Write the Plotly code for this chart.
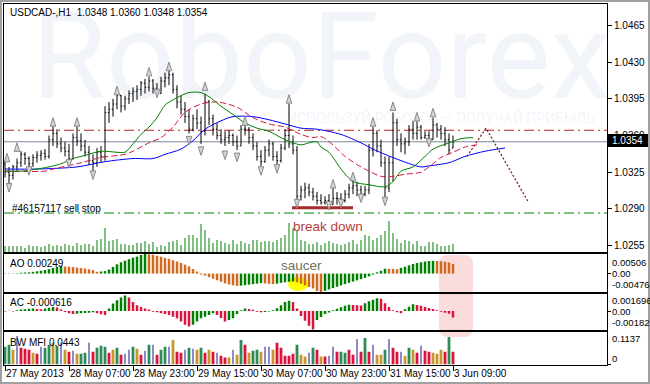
import plotly.graph_objects as go

W, H = 650, 384
FONT = "Liberation Sans, Arial, sans-serif"

# ---------------- data (prices in units of 1e-4) ----------------
bar_idx = list(range(113))
open_p = [10333,10325,10322,10330,10334,10342,10338,10333,10339,10341,
          10343,10340,10356,10362,10352,10348,10345,10338,10358,10355,
          10350,10344,10336,10334,10344,10340,10382,10385,10390,10398,
          10388,10395,10400,10402,10404,10410,10406,10412,10405,10400,
          10412,10415,10418,10404,10392,10385,10378,10366,10376,10372,
          10364,10392,10376,10366,10360,10356,10358,10360,10354,10350,
          10366,10366,10358,10350,10340,10335,10346,10352,10340,10336,
          10348,10360,10352,10346,10302,10308,10310,10306,10302,10298,
          10296,10298,10294,10300,10300,10298,10304,10310,10312,10308,
          10304,10308,10346,10362,10350,10334,10310,10334,10372,10356,
          10352,10354,10366,10362,10368,10358,10360,10356,10370,10366,
          10362,10356,10348]
high_p = [10336,10330,10332,10338,10345,10344,10340,10342,10345,10346,
          10347,10360,10369,10366,10358,10354,10352,10362,10369,10362,
          10356,10350,10342,10348,10350,10388,10392,10395,10400,10399,
          10398,10403,10406,10408,10412,10414,10416,10414,10410,10416,
          10420,10423,10420,10408,10398,10392,10385,10380,10385,10378,
          10400,10394,10380,10372,10366,10364,10365,10362,10360,10370,
          10372,10368,10362,10354,10346,10350,10356,10354,10345,10352,
          10366,10390,10360,10350,10312,10315,10314,10310,10306,10304,
          10302,10304,10310,10306,10305,10308,10314,10318,10316,10312,
          10312,10352,10368,10365,10356,10340,10340,10382,10376,10362,
          10358,10370,10374,10375,10370,10364,10364,10377,10372,10370,
          10368,10362,10360]
low_p = [10320,10312,10318,10326,10330,10332,10328,10330,10334,10336,
         10337,10338,10350,10348,10344,10340,10336,10337,10350,10345,
         10340,10332,10326,10330,10334,10336,10372,10378,10385,10382,
         10384,10390,10392,10394,10398,10400,10402,10400,10399,10400,
         10406,10408,10400,10386,10380,10372,10362,10364,10366,10352,
         10360,10370,10360,10356,10352,10350,10352,10350,10346,10350,
         10360,10352,10346,10336,10331,10334,10340,10336,10330,10334,
         10346,10348,10342,10296,10298,10300,10302,10298,10294,10294,
         10294,10292,10294,10294,10293,10296,10300,10304,10302,10298,
         10302,10304,10340,10344,10330,10301,10306,10316,10350,10344,
         10342,10350,10356,10356,10356,10357,10354,10356,10358,10356,
         10350,10342,10348]
close_p = [10325,10322,10330,10334,10342,10338,10333,10339,10341,10343,
           10340,10356,10362,10352,10348,10345,10338,10358,10355,10350,
           10344,10336,10334,10344,10340,10382,10385,10390,10398,10388,
           10395,10400,10402,10404,10410,10406,10412,10405,10400,10412,
           10415,10418,10404,10392,10385,10378,10366,10376,10372,10364,
           10392,10376,10366,10360,10356,10358,10360,10354,10350,10366,
           10366,10358,10350,10340,10335,10346,10352,10340,10336,10348,
           10360,10352,10346,10302,10308,10310,10306,10302,10298,10296,
           10298,10294,10300,10300,10298,10304,10310,10312,10308,10304,
           10308,10346,10362,10350,10334,10310,10334,10372,10356,10352,
           10354,10366,10362,10368,10358,10360,10356,10370,10366,10362,
           10356,10346,10354]
volume = [6,6,6,6,6,4,7,6,6,5,
          6,8,6,7,6,8,7,6,9,7,
          8,8,6,12,13,24,11,12,13,8,
          8,7,7,9,9,11,8,10,5,7,
          6,10,11,12,7,14,17,17,14,28,
          22,14,9,12,11,9,8,12,8,11,
          9,8,12,12,10,11,11,10,12,14,
          17,29,24,22,12,11,8,8,10,7,
          9,11,9,8,7,8,10,12,8,12,
          17,16,12,14,17,21,31,19,13,9,
          12,11,8,11,6,6,10,10,8,6,
          6,7,8]

# Alligator lines (bar index, price)
lips_x = [0,4,8,11,14,17,20,24,28,30,32,34,36,38,40,42,44,46,49,51,54,57,60,63,66,70,74,76,78,79,81,84,87,91,95,97,99,102,105,107,111,114,117]
lips_p = [1.0326,1.0326,1.0328,1.0330,1.0333,1.0338,1.0341,1.0345,1.0344,1.0344,1.0352,1.0361,1.0368,1.0377,1.0389,1.0394,1.0398,1.0401,1.0401,1.0397,1.0388,1.0380,1.0372,1.0367,1.0364,1.0356,1.0351,1.0353,1.0354,1.0349,1.0344,1.0328,1.0316,1.0313,1.0311,1.0316,1.0326,1.0330,1.0340,1.0347,1.0353,1.0357,1.0358]
teeth_x = [0,10,12,19,24,30,32,36,39,42,45,49,53,58,62,66,70,74,77,79,82,85,89,91,94,97,100,104,106,109,112,115,118]
teeth_p = [1.0326,1.0326,1.0328,1.0334,1.0339,1.0342,1.0345,1.0353,1.0358,1.0368,1.0382,1.0390,1.0392,1.0387,1.0377,1.0371,1.0368,1.0361,1.0358,1.0359,1.0351,1.0340,1.0330,1.0326,1.0321,1.0321,1.0323,1.0325,1.0330,1.0339,1.0344,1.0349,1.0351]
jaw_x = [0,8,18,25,32,37,40,44,47,50,54,57,62,66,70,74,78,84,89,92,95,99,104,106,111,115,120,125]
jaw_p = [1.0328,1.0328,1.0330,1.0335,1.0338,1.0338,1.0342,1.0347,1.0355,1.0366,1.0374,1.0378,1.0378,1.0375,1.0371,1.0367,1.0366,1.0361,1.0353,1.0347,1.0342,1.0336,1.0330,1.0331,1.0334,1.0340,1.0345,1.0348]

# Fractal marks
frac_up_x = [0.5,3,12,18,28,36,41,50,60,71,82,87,92,97,103,107]
frac_up_p = [1.0343,1.0353,1.0377,1.0377,1.0407,1.0425,1.0430,1.0411,1.0378,1.0399,1.0318,1.0325,1.0377,1.0392,1.0382,1.0386]
frac_dn_x = [1,6,16,22,38,46,49,55,58,64,68,73,81,84,89,95,106]
frac_dn_p = [1.0306,1.0322,1.0329,1.0318,1.0396,1.0351,1.0341,1.0337,1.0335,1.0322,1.0324,1.0291,1.0289,1.0291,1.0296,1.0293,1.0349]

# Drawn analysis objects
proj_x = [115.5, 120.25, 130.75]
proj_p = [1.0340, 1.0367, 1.0297]
break_x = [71.75, 87]
break_p = [1.0291, 1.0291]
level_resist = 1.0365
level_bid = 1.0354
level_sellstop = 1.0286

# Indicators
ao_e5 = [-10,-8,5,10,21,27,32,45,58,74,
         93,114,146,170,191,183,178,167,154,141,
         130,111,90,48,53,64,106,173,239,292,
         332,372,411,438,480,506,495,485,460,435,
         406,380,345,311,273,231,186,119,53,-27,
         -53,-93,-133,-173,-212,-252,-279,-305,-318,-313,
         -300,-287,-273,-260,-247,-255,-265,-273,-260,-239,
         -226,-212,-204,-226,-265,-305,-345,-385,-450,-476,
         -445,-410,-375,-340,-305,-272,-240,-208,-176,-145,
         -110,-72,-27,32,72,125,122,119,114,146,
         178,212,247,273,292,311,326,329,324,318,
         305,287,249]
ac_e6 = [-28,28,-28,94,160,188,216,254,207,188,
         254,329,404,348,160,-94,-216,-282,-244,-207,
         -188,-160,-113,-216,-301,-376,254,724,1034,1320,
         1500,1300,874,564,404,254,160,-66,-122,-216,
         -282,-376,-536,-686,-1006,-1316,-1476,-1316,-1006,-686,
         -536,-376,-216,-376,-658,-1006,-846,-686,-282,94,
         254,207,141,-66,-122,-94,-47,94,282,564,
         874,987,874,254,-470,-940,-1410,-1780,-846,-564,
         -282,-141,94,235,376,517,611,583,564,545,
         752,940,1100,1250,1194,752,404,94,-122,-216,
         188,423,658,592,517,395,301,207,94,-66,
         -160,-263,-616]
mfi_e4 = [620,689,517,1000,586,551,517,413,379,620,
          586,689,758,655,758,517,448,482,379,379,
          413,758,448,586,655,620,413,517,586,345,
          379,517,620,551,345,482,689,689,345,517,
          620,620,861,448,413,517,586,551,517,586,
          413,517,448,413,310,241,241,517,345,861,
          689,413,482,517,448,620,620,517,758,586,
          310,310,379,689,345,276,413,586,517,276,
          276,310,620,448,448,413,517,345,896,448,
          930,448,689,345,345,517,896,586,448,448,
          310,586,517,413,655,482,448,413,379,517,
          448,965,443]
mfi_kind = list("ggybrrryrb" "ggygbyrbyg" "gbrgggrygr" "bbgyrbgbrg" "gbyrrbgbyg"
                "ryrbrrybyg" "ryggybbyrr" "rrrgyybgry" "rbbrggrrbr" "grbyygbrrb"
                "ygyrbrryyy" "rgr")

price_ticks = [1.0255, 1.0290, 1.0325, 1.0360, 1.0395, 1.0430, 1.0465]
time_tick_idx = [0, 16, 32, 48, 64, 80, 96, 112]
time_tick_text = ["27 May 2013", "28 May 07:00", "28 May 23:00", "29 May 15:00",
                  "30 May 07:00", "30 May 23:00", "31 May 15:00", "3 Jun 09:00"]

# ---------------- geometry ----------------
def X(px):
    return px / W

def Y(py):
    return 1 - py / H

XDOM = [X(4), X(607)]
MAIN_D = [Y(252), Y(4)]
AO_D = [Y(292), Y(254)]
AC_D = [Y(330), Y(293.5)]
MFI_D = [Y(364.5), Y(332)]
XR = [-0.25, 150.5]
PRICE_RANGE = [1.02488, 1.04855]

GREEN = "#008000"
ORANGE = "#d2691e"
CRIMSON = "#dc143c"
WM = "rgba(170,186,212,0.16)"

fig = go.Figure()

# watermark on base price subplot (below overlay traces)
fig.add_trace(go.Scatter(x=[79], y=[1.04245], mode="text", text=["RoboForex"],
                         textfont=dict(family="Roboto, Open Sans, sans-serif", size=121, color=WM),
                         xaxis="x", yaxis="y", hoverinfo="skip", cliponaxis=False))
fig.add_trace(go.Scatter(x=[109], y=[1.0375], mode="text",
                         text=["ИСПОЛЬЗУЙ РОБОТОВ — ПОЛУЧАЙ ПРИБЫЛЬ"],
                         textfont=dict(family="Roboto, Open Sans, sans-serif", size=14, color=WM),
                         xaxis="x", yaxis="y", hoverinfo="skip", cliponaxis=False))

# volumes
fig.add_trace(go.Bar(x=bar_idx, y=volume, width=0.25, marker=dict(color=GREEN, line_width=0),
                     xaxis="x", yaxis="y6", hoverinfo="skip"))

# price bars
fig.add_trace(go.Ohlc(x=bar_idx,
                      open=[v / 1e4 for v in open_p], high=[v / 1e4 for v in high_p],
                      low=[v / 1e4 for v in low_p], close=[v / 1e4 for v in close_p],
                      increasing=dict(line=dict(color="black", width=1)),
                      decreasing=dict(line=dict(color="black", width=1)),
                      tickwidth=0.3, xaxis="x", yaxis="y5", hoverinfo="skip"))

# alligator
fig.add_trace(go.Scatter(x=jaw_x, y=jaw_p, mode="lines", xaxis="x", yaxis="y5",
                         line=dict(color="#0000ff", width=1, shape="spline", smoothing=0.8)))
fig.add_trace(go.Scatter(x=teeth_x, y=teeth_p, mode="lines", xaxis="x", yaxis="y5",
                         line=dict(color=CRIMSON, width=1, shape="spline", smoothing=0.8,
                                   dash="6px,3px")))
fig.add_trace(go.Scatter(x=lips_x, y=lips_p, mode="lines", xaxis="x", yaxis="y5",
                         line=dict(color=GREEN, width=1, shape="spline", smoothing=0.8)))

# analysis lines
fig.add_trace(go.Scatter(x=break_x, y=break_p, mode="lines", xaxis="x", yaxis="y5",
                         line=dict(color="#a52a2a", width=3)))
fig.add_trace(go.Scatter(x=proj_x, y=proj_p, mode="lines", xaxis="x", yaxis="y5",
                         line=dict(color="#8b1a1a", width=1.3, dash="2px,2px")))

# fractals
fig.add_trace(go.Scatter(x=frac_up_x, y=frac_up_p, mode="markers", xaxis="x", yaxis="y5",
                         marker=dict(symbol="arrow", size=9, color="#d4d4d4",
                                     line=dict(color="#8a8a8a", width=1))))
fig.add_trace(go.Scatter(x=frac_dn_x, y=frac_dn_p, mode="markers", xaxis="x", yaxis="y5",
                         marker=dict(symbol="arrow", angle=180, size=9, color="#d4d4d4",
                                     line=dict(color="#8a8a8a", width=1))))

# AO
ao_colors = [ORANGE] + [GREEN if ao_e5[i] > ao_e5[i - 1] else ORANGE for i in range(1, len(ao_e5))]
fig.add_trace(go.Bar(x=bar_idx, y=ao_e5, width=0.62, marker=dict(color=ao_colors, line_width=0),
                     xaxis="x2", yaxis="y2", hoverinfo="skip"))
# AC
ac_colors = [CRIMSON] + [GREEN if ac_e6[i] > ac_e6[i - 1] else CRIMSON for i in range(1, len(ac_e6))]
fig.add_trace(go.Bar(x=bar_idx, y=ac_e6, width=0.62, marker=dict(color=ac_colors, line_width=0),
                     xaxis="x3", yaxis="y3", hoverinfo="skip"))
# BW MFI
kind_color = {"g": "#2e8b57", "r": CRIMSON, "y": "#c8962d", "b": "#1a1a8c"}
kind_width = {"g": 0.7, "r": 0.7, "y": 0.7, "b": 0.25}
fig.add_trace(go.Bar(x=bar_idx, y=mfi_e4,
                     width=[kind_width[k] for k in mfi_kind],
                     marker=dict(color=[kind_color[k] for k in mfi_kind], line_width=0),
                     xaxis="x4", yaxis="y4", hoverinfo="skip"))

axis_common = dict(showline=True, mirror=True, linecolor="black", linewidth=1,
                   showgrid=False, zeroline=False, fixedrange=True, automargin=False)

layout = dict(
    template="none",
    width=W, height=H, margin=dict(l=0, r=0, t=0, b=0, pad=0), autosize=False,
    paper_bgcolor="white", plot_bgcolor="white", showlegend=False,
    hovermode=False, font=dict(family=FONT, size=10, color="black"),
    barmode="overlay",
    xaxis=dict(domain=XDOM, range=XR, anchor="y", ticks="", showticklabels=False,
               rangeslider=dict(visible=False), **axis_common),
    yaxis=dict(domain=MAIN_D, range=PRICE_RANGE, side="right", anchor="x",
               tickvals=price_ticks, ticktext=[f"{v:.4f}" for v in price_ticks],
               ticks="outside", ticklen=4, tickcolor="black", tickwidth=1,
               tickfont=dict(size=10, color="black", family=FONT), **axis_common),
    yaxis5=dict(overlaying="y", range=PRICE_RANGE, visible=False, fixedrange=True),
    yaxis6=dict(overlaying="y", range=[0, 248], visible=False, fixedrange=True),
    xaxis2=dict(domain=XDOM, range=XR, anchor="y2", ticks="", showticklabels=False, **axis_common),
    yaxis2=dict(domain=AO_D, range=[-476, 506], side="right", anchor="x2", tickvals=[0],
                ticks="outside", ticklen=3, tickcolor="black", showticklabels=False, **axis_common),
    xaxis3=dict(domain=XDOM, range=XR, anchor="y3", ticks="", showticklabels=False, **axis_common),
    yaxis3=dict(domain=AC_D, range=[-1820, 1696], side="right", anchor="x3", tickvals=[0],
                ticks="outside", ticklen=3, tickcolor="black", showticklabels=False, **axis_common),
    xaxis4=dict(domain=XDOM, range=XR, anchor="y4", tickvals=time_tick_idx, ticks="outside",
                ticklen=5, tickcolor="black", showticklabels=False, **axis_common),
    yaxis4=dict(domain=MFI_D, range=[0, 1137], side="right", anchor="x4", tickvals=[0],
                ticks="outside", ticklen=3, tickcolor="black", showticklabels=False, **axis_common),
)

def rounded_rect_path(x0, y0, x1, y1, r):
    pts = [
        ("M", [(x0 + r, y0)]), ("L", [(x1 - r, y0)]), ("Q", [(x1, y0), (x1, y0 + r)]),
        ("L", [(x1, y1 - r)]), ("Q", [(x1, y1), (x1 - r, y1)]), ("L", [(x0 + r, y1)]),
        ("Q", [(x0, y1), (x0, y1 - r)]), ("L", [(x0, y0 + r)]), ("Q", [(x0, y0), (x0 + r, y0)]),
    ]
    s = ""
    for cmd, ps in pts:
        s += cmd + " ".join(f"{X(a):.5f},{Y(b):.5f}" for a, b in ps) + " "
    return s + "Z"

shapes = [
    dict(type="line", xref="x", yref="y", x0=XR[0], x1=XR[1], y0=level_resist, y1=level_resist,
         line=dict(color="#b22222", width=1, dash="10px,4px,2px,4px"), layer="below"),
    dict(type="line", xref="x", yref="y", x0=XR[0], x1=XR[1], y0=level_bid, y1=level_bid,
         line=dict(color="#778899", width=1), layer="below"),
    dict(type="line", xref="x", yref="y", x0=XR[0], x1=XR[1], y0=level_sellstop, y1=level_sellstop,
         line=dict(color=GREEN, width=1, dash="10px,4px,2px,4px"), layer="below"),
    dict(type="path", xref="paper", yref="paper", path=rounded_rect_path(439, 255, 473, 337, 9),
         fillcolor="#fbdcdc", line=dict(width=0), layer="below"),
    dict(type="circle", xref="paper", yref="paper", x0=X(288), x1=X(308), y0=Y(291), y1=Y(277),
         fillcolor="#ffff00", line=dict(width=0), layer="below"),
    dict(type="rect", xref="paper", yref="paper", x0=X(608), x1=1, y0=Y(147), y1=Y(134),
         fillcolor="black", line=dict(width=0), layer="above"),
    dict(type="rect", xref="paper", yref="paper", x0=0, x1=1, y0=0, y1=1,
         fillcolor="rgba(0,0,0,0)", line=dict(color="#a0a0a0", width=4), layer="above"),
]

def ann(text, xpx, ypx, xanchor="left", size=10, color="black"):
    return dict(text=text, x=X(xpx), y=Y(ypx), xref="paper", yref="paper",
                xanchor=xanchor, yanchor="middle", showarrow=False,
                font=dict(family=FONT, size=size, color=color))

RS = 9.5
annotations = [
    ann("USDCAD-,H1 \u00a01.0348 1.0360 1.0348 1.0354", 8, 12),
    ann("#46157117 sell stop", 10, 208),
    ann("break down", 328, 226, xanchor="center", size=13.5, color="#b5403a"),
    ann("saucer", 301, 265, xanchor="center", size=13.5, color="#6e7060"),
    ann("AO 0.00249", 8, 263),
    ann("AC -0.000616", 8, 302),
    ann("BW MFI 0.0443", 8, 342),
    ann("1.0354", 610, 140.5, color="white"),
    ann("0.00506", 610, 262, size=RS), ann("0.00", 610, 273, size=RS),
    ann("-0.00476", 610, 284, size=RS),
    ann("0.001696", 610, 300, size=RS), ann("0.00", 610, 311, size=RS),
    ann("-0.00182", 610, 322, size=RS),
    ann("0.1137", 610, 338, size=RS), ann("0", 610, 358, size=RS),
]
for i, t in zip(time_tick_idx, time_tick_text):
    annotations.append(ann(t, 5 + 4 * i - 1, 373))

layout["shapes"] = shapes
layout["annotations"] = annotations
fig.update_layout(**layout)

fig.write_html("out.html", config={"displayModeBar": False, "staticPlot": True},
               post_script="document.body.style.margin='0';document.body.style.overflow='hidden';")
